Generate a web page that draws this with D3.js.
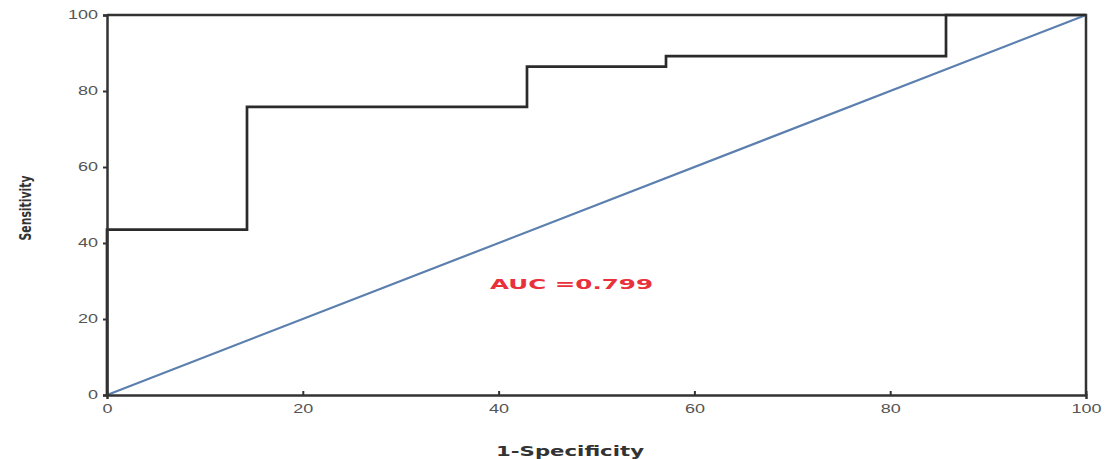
<!DOCTYPE html>
<html>
<head>
<meta charset="utf-8">
<script src="https://cdn.jsdelivr.net/npm/d3@7"></script>
<style>
body { margin: 0; background: #fff; }
svg { display: block; font-family: "DejaVu Sans", sans-serif; }
</style>
</head>
<body>
<div id="chart"></div>
<script>
// ROC curve (1-specificity, sensitivity), in %
var fpr = [0, 0, 14.3, 14.3, 42.9, 42.9, 57.1, 57.1, 85.7, 85.7, 100];
var tpr = [0, 43.5, 43.5, 75.8, 75.8, 86.4, 86.4, 89.2, 89.2, 100, 100];
var refLine = [0, 100];
var xTicks = [0, 20, 40, 60, 80, 100];
var yTicks = [0, 20, 40, 60, 80, 100];
var aucLabel = "AUC =0.799";

var width = 1105, height = 459;
var margin = {top: 15, right: 19, bottom: 64, left: 107};

var svg = d3.select("#chart").append("svg")
    .attr("width", width)
    .attr("height", height);

var x = d3.scaleLinear().domain([0, 100]).range([margin.left, width - margin.right]);
var y = d3.scaleLinear().domain([0, 100]).range([height - margin.bottom, margin.top]);

// frame on top and right
svg.append("path")
    .attr("d", "M" + x(0) + "," + y(100) + "H" + x(100) + "V" + y(0))
    .attr("fill", "none")
    .attr("stroke", "#333")
    .attr("stroke-width", 2.5);

// diagonal reference
svg.append("line")
    .attr("x1", x(refLine[0])).attr("y1", y(refLine[0]))
    .attr("x2", x(refLine[1])).attr("y2", y(refLine[1]))
    .attr("stroke", "#5b7fae")
    .attr("stroke-width", 2.2);

// roc step line
var line = d3.line()
    .x(function(d, i) { return x(fpr[i]); })
    .y(function(d, i) { return y(tpr[i]); });

svg.append("path")
    .datum(fpr)
    .attr("d", line)
    .attr("fill", "none")
    .attr("stroke", "#2b2b2b")
    .attr("stroke-width", 2.7);

// axes
var xAxis = svg.append("g")
    .attr("transform", "translate(0," + y(0) + ")")
    .call(d3.axisBottom(x).tickValues(xTicks).tickSize(4));
var yAxis = svg.append("g")
    .attr("transform", "translate(" + x(0) + ",0)")
    .call(d3.axisLeft(y).tickValues(yTicks).tickSize(4));

[xAxis, yAxis].forEach(function(g) {
    g.select(".domain").attr("stroke", "#333").attr("stroke-width", 2.5);
    g.selectAll(".tick line").attr("stroke", "#333").attr("stroke-width", 2);
    g.selectAll(".tick text")
        .attr("fill", "#555")
        .style("font-size", "12px")
        .style("font-family", "'Liberation Sans', sans-serif");
});
// the original text is stretched sideways
xAxis.selectAll(".tick text")
    .attr("x", 0).attr("y", 0).attr("dy", "0")
    .attr("transform", "translate(0,18) scale(1.5,1)");
xAxis.selectAll(".tick line").attr("y2", -4);
yAxis.selectAll(".tick text")
    .attr("x", 0)
    .attr("transform", "translate(-9,0) scale(1.5,1)");

// labels
svg.append("text")
    .attr("transform", "translate(31,208) rotate(-90)")
    .attr("text-anchor", "middle")
    .attr("textLength", 65)
    .attr("lengthAdjust", "spacingAndGlyphs")
    .style("font-size", "16px")
    .style("font-weight", "bold")
    .attr("fill", "#333")
    .text("Sensitivity");

svg.append("text")
    .attr("x", 496)
    .attr("y", 456)
    .attr("textLength", 148)
    .attr("lengthAdjust", "spacingAndGlyphs")
    .style("font-size", "14px")
    .style("font-weight", "bold")
    .attr("fill", "#333")
    .text("1-Specificity");

svg.append("text")
    .attr("x", 490)
    .attr("y", 289)
    .attr("textLength", 163)
    .attr("lengthAdjust", "spacingAndGlyphs")
    .style("font-size", "14px")
    .style("font-weight", "bold")
    .attr("fill", "#e8313a")
    .text(aucLabel);
</script>
</body>
</html>
